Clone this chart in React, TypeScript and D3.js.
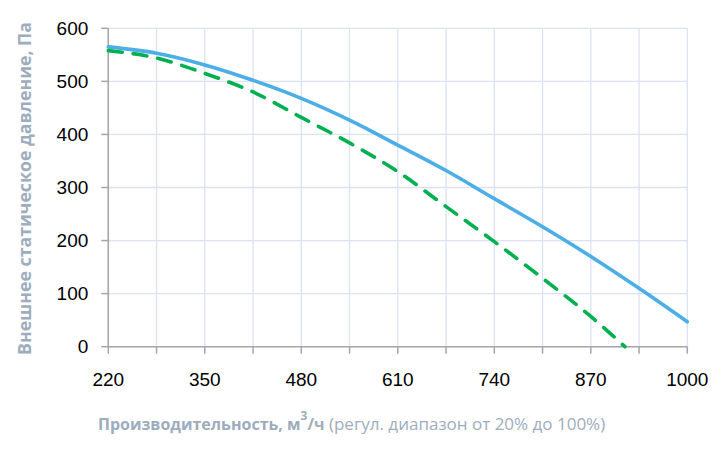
import React from "react";
import * as d3 from "d3";

const xTicks = [220, 350, 480, 610, 740, 870, 1000];
const xMinorTicks = [220, 285, 350, 415, 480, 545, 610, 675, 740, 805, 870, 935, 1000];
const yTicks = [0, 100, 200, 300, 400, 500, 600];

const blueX = [220, 285, 350, 415, 480, 545, 610, 675, 740, 805, 870, 935, 1000];
const blueY = [565, 553, 531, 502, 468, 427, 380, 332, 279, 226, 170, 110, 47];

const greenX = [220, 285, 350, 415, 480, 545, 610, 675, 740, 805, 870, 916];
const greenY = [558, 544, 515, 480, 432, 384, 330, 264, 198, 129, 57, 0];

const W = 726;
const H = 453;
const margin = { left: 108.3, right: 726 - 687.3, top: 28.3, bottom: 453 - 346.7 };

export default function App() {
  const x = d3.scaleLinear().domain([220, 1000]).range([margin.left, W - margin.right]);
  const y = d3.scaleLinear().domain([0, 600]).range([H - margin.bottom, margin.top]);
  const line = d3
    .line<[number, number]>()
    .x((d) => x(d[0]))
    .y((d) => y(d[1]))
    .curve(d3.curveMonotoneX);
  const blue = line(blueX.map((v, i) => [v, blueY[i]] as [number, number])) || "";
  const green = line(greenX.map((v, i) => [v, greenY[i]] as [number, number])) || "";
  const y0 = y(0);
  const gridColor = "#dae3f3";
  const axisColor = "#a6a6a6";
  const titleColor = "#9dadbd";
  return (
    <div style={{ position: "fixed", left: 0, top: 0 }}>
      <svg width={W} height={H} style={{ display: "block", background: "#fff" }}>
        {/* grid */}
        {xMinorTicks.map((t) => (
          <line key={"gx" + t} x1={x(t)} x2={x(t)} y1={y(600)} y2={y0} stroke={gridColor} strokeWidth={1.3} />
        ))}
        {yTicks.map((t) => (
          <line key={"gy" + t} x1={x(220)} x2={x(1000)} y1={y(t)} y2={y(t)} stroke={gridColor} strokeWidth={1.3} />
        ))}
        {/* axes */}
        <line x1={x(220)} x2={x(220)} y1={y(600)} y2={y0} stroke={axisColor} strokeWidth={1.5} />
        <line x1={x(220)} x2={x(1000)} y1={y0} y2={y0} stroke={axisColor} strokeWidth={1.5} />
        {yTicks.map((t) => (
          <line key={"ty" + t} x1={x(220) - 7} x2={x(220)} y1={y(t)} y2={y(t)} stroke={axisColor} strokeWidth={1.5} />
        ))}
        {xMinorTicks.map((t) => (
          <line key={"tx" + t} x1={x(t)} x2={x(t)} y1={y0} y2={y0 + 7} stroke={axisColor} strokeWidth={1.5} />
        ))}
        {/* series */}
        <path d={blue} fill="none" stroke="#4baee6" strokeWidth={3.6} strokeLinecap="round" />
        <path d={green} fill="none" stroke="#00b050" strokeWidth={3.6} strokeDasharray="14 11" strokeLinecap="round" />
        {/* tick labels */}
        {yTicks.map((t) => (
          <text
            key={"ly" + t}
            x={x(220) - 20}
            y={y(t)}
            dy="0.35em"
            textAnchor="end"
            fontFamily="'Liberation Sans', Arial, sans-serif"
            fontSize={19}
            fill="#000"
          >
            {t}
          </text>
        ))}
        {xTicks.map((t) => (
          <text
            key={"lx" + t}
            x={x(t)}
            y={386}
            textAnchor="middle"
            fontFamily="'Liberation Sans', Arial, sans-serif"
            fontSize={19}
            fill="#000"
          >
            {t}
          </text>
        ))}
        {/* titles */}
        <text
          transform={`translate(31, 188.5) rotate(-90)`}
          textAnchor="middle"
          fontFamily="'Open Sans', sans-serif"
          fontSize={17}
          fontWeight="bold"
          fill={titleColor}
          textLength={333}
          lengthAdjust="spacingAndGlyphs"
        >
          Внешнее статическое давление, Па
        </text>
        <text x={98} y={430} fontFamily="'Open Sans', sans-serif" fontSize={16} fill={titleColor}>
          <tspan fontWeight="bold">Производительность, м</tspan>
          <tspan fontWeight="bold" fontSize={12} dy={-10}>3</tspan>
          <tspan fontWeight="bold" dy={10}>/ч</tspan>
          <tspan fontSize={17}> (регул. диапазон от 20% до 100%)</tspan>
        </text>
      </svg>
    </div>
  );
}
